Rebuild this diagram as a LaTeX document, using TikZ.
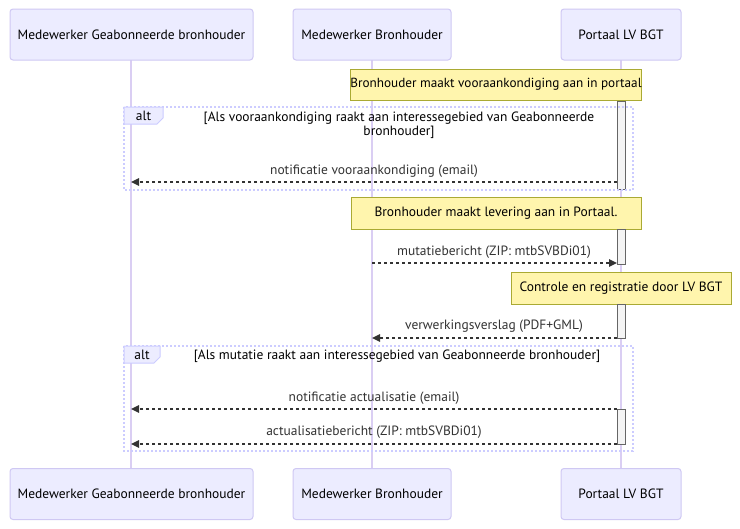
\documentclass[tikz,border=0pt]{standalone}
\usepackage{fontspec}
\setmainfont{PT Sans}
\usetikzlibrary{arrows.meta}
\definecolor{actfill}{HTML}{ECECFF}
\definecolor{actborder}{HTML}{CFC8F3}
\definecolor{lifeline}{HTML}{DACEF3}
\definecolor{notefill}{HTML}{FFF5AD}
\definecolor{noteborder}{HTML}{AAAA33}
\definecolor{barfill}{HTML}{F4F4F4}
\definecolor{barborder}{HTML}{666666}
\definecolor{msg}{HTML}{333333}
\definecolor{loopline}{HTML}{CCCCFF}
\tikzset{
  actor/.style={draw=actborder, fill=actfill, line width=0.75pt, rounded corners=2.25pt, minimum height=38.25pt, inner sep=0pt, text=black},
  notebox/.style={draw=noteborder, fill=notefill, line width=0.75pt, inner sep=0pt, text=black},
  actbar/.style={draw=barborder, fill=barfill, line width=0.75pt},
  life/.style={draw=lifeline, line width=0.9pt},
  msgline/.style={draw=msg, line width=1.1pt, dash pattern=on 2.25pt off 2.25pt, -{Triangle[length=6pt,width=5.5pt]}},
  msgtext/.style={text=msg, inner sep=0pt},
  loopframe/.style={draw=loopline, line width=1.2pt, dash pattern=on 1.5pt off 1.5pt},
  looptab/.style={draw=loopline, fill=actfill, line width=0.75pt},
  condtext/.style={text=black, inner sep=0pt, align=center},
}
\begin{document}
\begin{tikzpicture}[x=0.75pt,y=-0.75pt, font=\fontsize{10.1}{10.5}\selectfont]
\useasboundingbox[fill=white] (0,0) rectangle (740,529);

% lifelines
\coordinate (l1t) at (131,60); \coordinate (l1b) at (131,468);
\coordinate (l2t) at (372,60); \coordinate (l2b) at (372,468);
\coordinate (l3t) at (621,60); \coordinate (l3b) at (621,468);
\draw[life] (l1t) -- (l1b);
\draw[life] (l2t) -- (l2b);
\draw[life] (l3t) -- (l3b);

% actors top
\node[actor, minimum width=182.25pt] (a1) at (131.5,34.5) {Medewerker Geabonneerde bronhouder};
\node[actor, minimum width=118.5pt] (a2) at (372,34.5) {Medewerker Bronhouder};
\node[actor, minimum width=90pt] (a3) at (621,34.5) {Portaal LV BGT};
% actors bottom
\node[actor, minimum width=182.25pt] (b1) at (131.5,494) {Medewerker Geabonneerde bronhouder};
\node[actor, minimum width=118.5pt] (b2) at (372,494) {Medewerker Bronhouder};
\node[actor, minimum width=90pt] (b3) at (621,494) {Portaal LV BGT};

% note 1
\node[notebox, minimum width=217.5pt, minimum height=23.25pt, font=\fontsize{9.9}{10.5}\selectfont] (n1) at (496,84.5) {Bronhouder maakt vooraankondiging aan in portaal};

% activation bar 1
\draw[actbar] (617,101) rectangle (625,189);

% alt 1
\draw[loopframe] (124,107) rectangle (633,190);
\draw[looptab] (124,107) -- (163,107) -- (163,118) -- (157,124) -- (124,124) -- cycle;
\node[text=black, inner sep=0pt] (alt1) at (143.5,116) {alt};
\node[condtext] (c1) at (399,125) {[Als vooraankondiging raakt aan interessegebied van Geabonneerde\\bronhouder]};

% message 1
\node[msgtext] (t1) at (374,171) {notificatie vooraankondiging (email)};
\coordinate (m1s) at (617,182); \coordinate (m1e) at (131,182);
\draw[msgline] (m1s) -- (m1e);

% note 2
\node[notebox, minimum width=217.5pt, minimum height=24pt] (n2) at (496,213) {Bronhouder maakt levering aan in Portaal.};
\draw[actbar] (617,229) rectangle (625,264);

% message 2
\node[msgtext] (t2) at (494,252) {mutatiebericht (ZIP: mtbSVBDi01)};
\coordinate (m2s) at (372,263); \coordinate (m2e) at (617,263);
\draw[msgline] (m2s) -- (m2e);

% note 3
\node[notebox, minimum width=165pt, minimum height=24pt] (n3) at (621,288) {Controle en registratie door LV BGT};
\draw[actbar] (617,304) rectangle (625,338);

% message 3
\node[msgtext] (t3) at (494,326) {verwerkingsverslag (PDF+GML)};
\coordinate (m3s) at (617,338); \coordinate (m3e) at (372,338);
\draw[msgline] (m3s) -- (m3e);

% alt 2
\draw[loopframe] (124,346) rectangle (633,451);
\draw[looptab] (124,346) -- (160,346) -- (160,357) -- (154,363) -- (124,363) -- cycle;
\node[text=black, inner sep=0pt] (alt2) at (142,355) {alt};
\node[condtext] (c2) at (397,356) {[Als mutatie raakt aan interessegebied van Geabonneerde bronhouder]};

\draw[actbar] (617,409) rectangle (625,444);

% message 4
\node[msgtext] (t4) at (374,398) {notificatie actualisatie (email)};
\coordinate (m4s) at (617,409); \coordinate (m4e) at (131,409);
\draw[msgline] (m4s) -- (m4e);

% message 5
\node[msgtext] (t5) at (374,432) {actualisatiebericht (ZIP: mtbSVBDi01)};
\coordinate (m5s) at (617,444); \coordinate (m5e) at (131,444);
\draw[msgline] (m5s) -- (m5e);
\end{tikzpicture}
\end{document}
